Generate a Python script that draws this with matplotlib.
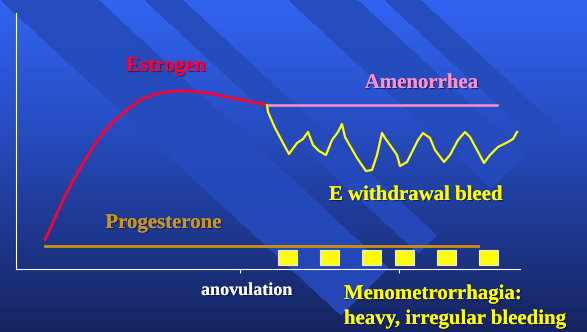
import numpy as np
import matplotlib
matplotlib.use("Agg")
import matplotlib.pyplot as plt
import matplotlib.patheffects as pe

# ---- data (x: time along the cycle, y: relative hormone level) ----
estrogen_x = [29, 38, 47, 57, 67, 77, 87, 99, 111, 121, 131, 141, 151, 161, 171, 181, 191, 201, 211, 221, 231, 241, 251]
estrogen_y = [29, 49, 69, 88, 106, 122, 136, 149, 159, 167, 172, 175, 177, 178, 178, 177, 176, 174, 172, 170, 168, 166, 164]

amenorrhea_x = [252, 481]
amenorrhea_y = [164, 164]

withdrawal_x = [251, 252, 259, 267, 273, 281, 287, 292, 297, 303, 310, 316, 322, 326, 329,
                341, 350, 356, 361, 366, 369, 374, 381, 384, 391, 397, 402, 407, 414,
                419, 428, 434, 442, 449, 454, 461, 468, 474, 482, 492, 497, 501]
withdrawal_y = [164, 157, 141, 126, 115, 126, 130, 137, 124, 118, 114, 129, 137, 145, 132,
                111, 98, 99, 114, 136, 131, 124, 114, 103, 107, 119, 129, 136, 131,
                119, 107, 114, 129, 137, 132, 119, 106, 114, 122, 127, 130, 137]

progesterone_x = [29, 462]
progesterone_y = [23, 23]

bleed_x = [271.5, 313, 355.5, 388, 430, 472]
bleed_h = [15, 15, 15, 15, 15, 15]
bleed_bottom = 4

tick_positions = [224, 383]

W, H = 587, 332
fig = plt.figure(figsize=(W / 100, H / 100), dpi=100)

# ---- slide background: vertical gradient crossed by flat diagonal bands ----
yy, xx = np.mgrid[0:H, 0:W].astype(float)
u = xx - 1.08 * yy
v = xx + yy


def ramp(stops):
    ys = [s[0] for s in stops]
    return np.stack([np.interp(yy, ys, [s[1][k] for s in stops]) for k in range(3)], axis=-1)


base = ramp([(0, (50, 100, 242)), (120, (39, 78, 196)), (332, (22, 36, 96))])
band = ramp([(0, (38, 78, 192)), (332, (36, 70, 182))])

band_mask = (((u > 0) & (u < 99) & (v < 656)) |
             ((u > 144) & (u < 183) & (v < 672)) |
             ((u > 288) & (u < 358) & (v < 680)) |
             ((u > 384) & (u < 421) & (v < 684)))
img = np.where(band_mask[..., None], band, base)

bg = fig.add_axes([0, 0, 1, 1])
bg.imshow(img / 255.0, aspect="auto", extent=[0, 1, 0, 1], interpolation="bilinear")
bg.axis("off")

# ---- main axes ----
ax = fig.add_axes([16 / W, 63 / H, 504 / W, 256 / H])
ax.patch.set_alpha(0)
ax.set_xlim(0, 504)
ax.set_ylim(0, 256)
for side in ("top", "right"):
    ax.spines[side].set_visible(False)
for side in ("left", "bottom"):
    ax.spines[side].set_color("white")
    ax.spines[side].set_linewidth(0.8)
ax.set_yticks([])
ax.set_xticks(tick_positions)
ax.set_xticklabels([])
ax.tick_params(axis="x", colors="white", length=3, width=0.8, direction="out")

ax.plot(estrogen_x, estrogen_y, color="#FF0033", lw=2.0, solid_capstyle="round", solid_joinstyle="round")
ax.plot(amenorrhea_x, amenorrhea_y, color="#FF8FC8", lw=1.8)
ax.plot(withdrawal_x, withdrawal_y, color="#FFFF00", lw=1.6, solid_joinstyle="round")
ax.plot(progesterone_x, progesterone_y, color="#CC9010", lw=2.0)
ax.bar(bleed_x, bleed_h, bottom=bleed_bottom, width=19, color="#FFFF00",
       edgecolor="#E8E8E8", linewidth=0.8)

# ---- labels ----
shadow = [pe.withSimplePatchShadow(offset=(0.8, -0.8), shadow_rgbFace="#000030", alpha=0.5), pe.Normal()]
font = dict(family="Liberation Serif", fontweight="bold")


def label(x, y, s, color, size=15, ha="center"):
    fig.text(x / W, 1 - y / H, s, color=color, fontsize=size, ha=ha, va="baseline",
             path_effects=shadow, **font)


label(166, 71, "Estrogen", "#FF0033")
label(421.5, 88, "Amenorrhea", "#FF8FC8")
label(416, 200, "E withdrawal bleed", "#FFFF00")
label(163.5, 228, "Progesterone", "#C8961E")
label(246.5, 295, "anovulation", "white", size=13)
label(344, 299, "Menometrorrhagia:", "#FFFF00", ha="left")
label(344, 324, "heavy, irregular bleeding", "#FFFF00", ha="left")

fig.savefig("out.png", dpi=100)
